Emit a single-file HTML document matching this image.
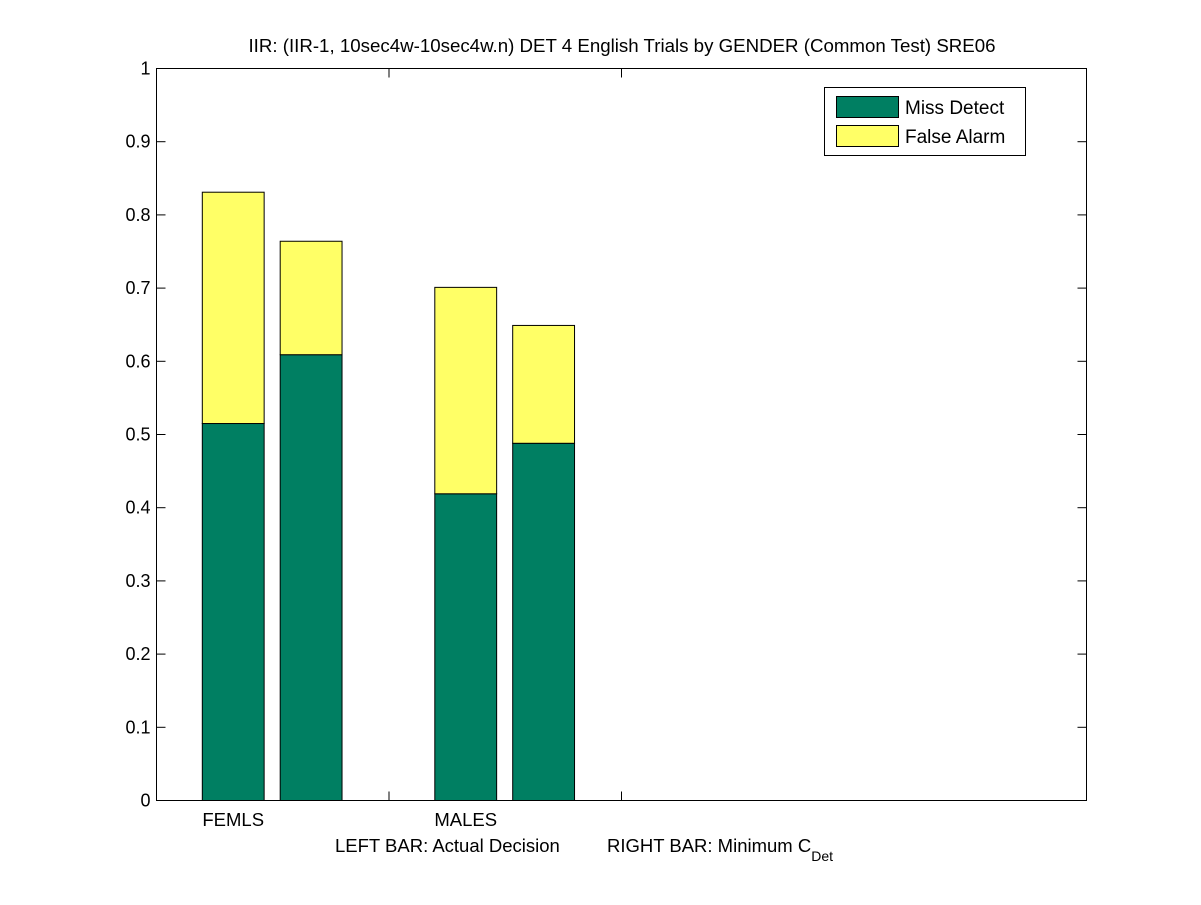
<!DOCTYPE html>
<html><head><meta charset="utf-8"><style>
body{margin:0;background:#fff;}
svg text{font-family:"Liberation Sans",sans-serif;white-space:pre;}
</style></head><body>
<svg id="chart" width="1201" height="900" xmlns="http://www.w3.org/2000/svg">
<rect x="0" y="0" width="1201" height="900" fill="#fff"/>
<text x="622" y="52" font-size="18.7" text-anchor="middle">IIR: (IIR-1, 10sec4w-10sec4w.n) DET 4 English Trials by GENDER (Common Test) SRE06</text>
<g id="bars"></g>
<rect x="156.5" y="68.5" width="930" height="732" fill="none" stroke="#000"/>
<g id="axes"></g>
<text x="335" y="852" font-size="18.5">LEFT BAR: Actual Decision<tspan x="607">RIGHT BAR: Minimum C</tspan><tspan font-size="14" dy="9">Det</tspan></text>
<g>
<rect x="824.5" y="87.5" width="201" height="68" fill="#fff" stroke="#000"/>
<rect x="836.5" y="96.5" width="62" height="21" fill="#007f62" stroke="#000"/>
<text x="905" y="114" font-size="19">Miss Detect</text>
<rect x="836.5" y="125.5" width="62" height="21" fill="#ffff66" stroke="#000"/>
<text x="905" y="143" font-size="19">False Alarm</text>
</g>
</svg>
<script>
const categories = ["FEMLS", "MALES"];
const missActual = [0.515, 0.419];
const totalActual = [0.831, 0.701];
const missMin = [0.609, 0.488];
const totalMin = [0.764, 0.649];
const yTicks = [0,0.1,0.2,0.3,0.4,0.5,0.6,0.7,0.8,0.9,1];
const yTickLabels = ["0","0.1","0.2","0.3","0.4","0.5","0.6","0.7","0.8","0.9","1"];

const NS="http://www.w3.org/2000/svg";
const L=156.5,R=1086.5,T=68.5,B=800.5;
const y=v=>B-(B-T)*v;
const x=v=>L+(R-L)*v/4;
function mk(tag,attrs,parent){const e=document.createElementNS(NS,tag);for(const k in attrs)e.setAttribute(k,attrs[k]);parent.appendChild(e);return e;}
const bars=document.getElementById('bars'), axes=document.getElementById('axes');
const W=0.266;
categories.forEach((c,i)=>{
  [[i+0.33,missActual[i],totalActual[i],'actual'],[i+0.665,missMin[i],totalMin[i],'min']].forEach(([cv,m,t,k])=>{
    const bx=x(cv-W/2), bw=x(cv+W/2)-bx;
    let r=mk('rect',{x:bx,y:y(m),width:bw,height:y(0)-y(m),fill:'#007f62',stroke:'#000'},bars);
    
    
    r=mk('rect',{x:bx,y:y(t),width:bw,height:y(m)-y(t),fill:'#ffff66',stroke:'#000'},bars);
    
    
  });
  const t=mk('text',{x:x(i+0.33),y:826,'font-size':18.5,'text-anchor':'middle'},axes);
  t.textContent=c;
  
  
});
[1,2].forEach(v=>{
  mk('line',{x1:x(v),x2:x(v),y1:B,y2:B-9,stroke:'#000'},axes);
  mk('line',{x1:x(v),x2:x(v),y1:T,y2:T+9,stroke:'#000'},axes);
});
yTicks.forEach((v,i)=>{
  mk('line',{x1:L,x2:L+9,y1:y(v),y2:y(v),stroke:'#000'},axes);
  mk('line',{x1:R,x2:R-9,y1:y(v),y2:y(v),stroke:'#000'},axes);
  const t=mk('text',{x:L-6,y:y(v)+6,'font-size':18,'text-anchor':'end'},axes);
  t.textContent=yTickLabels[i];
  
  
});
</script>
</body></html>
